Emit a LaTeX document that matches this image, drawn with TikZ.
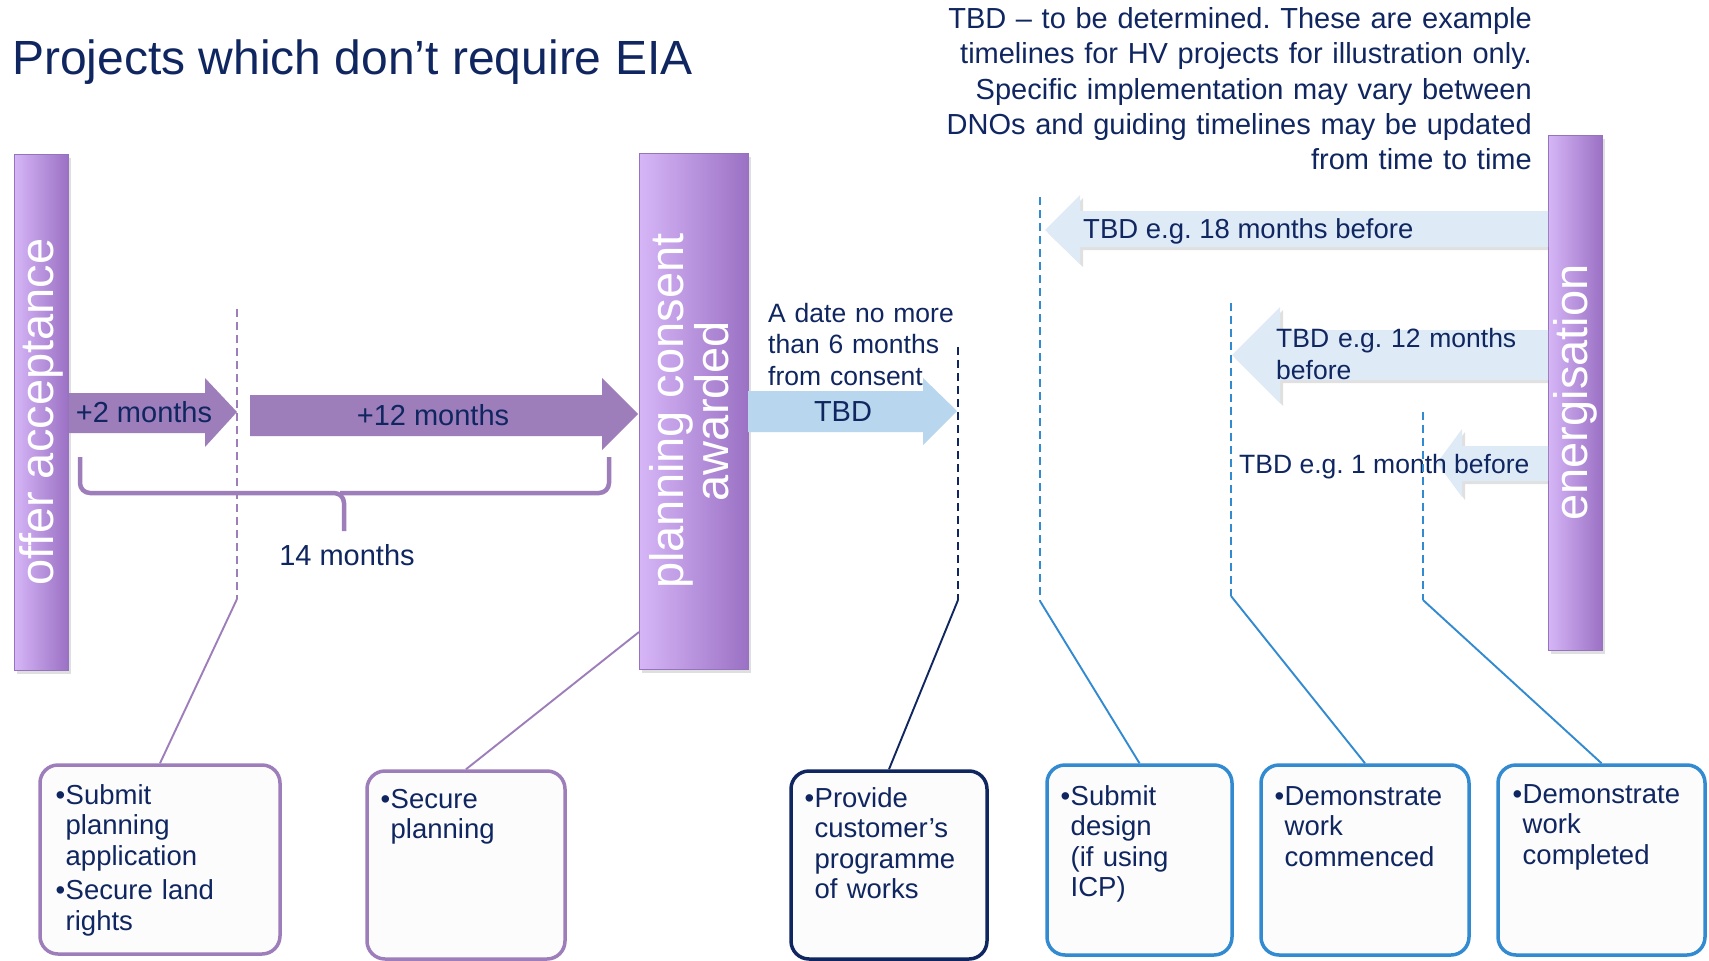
\documentclass[tikz,border=0pt]{standalone}
\usepackage{fontspec}
\setmainfont{Liberation Sans}
\usetikzlibrary{shadows}
\frenchspacing
\definecolor{navy}{RGB}{16,38,96}
\definecolor{purp}{RGB}{157,126,187}
\definecolor{barL}{RGB}{214,182,247}
\definecolor{barD}{RGB}{155,113,196}
\definecolor{barE}{RGB}{150,115,190}
\definecolor{blueM}{RGB}{50,138,208}
\definecolor{tbdB}{RGB}{184,214,237}
\definecolor{paleB}{RGB}{222,235,247}
\definecolor{boxF}{RGB}{252,252,252}
\newcommand{\bu}{\makebox[10pt][l]{•}}
\newcommand{\ii}{\hspace*{10pt}}
\begin{document}
\begin{tikzpicture}[x=1pt,y=-1pt,
  bar/.style={draw=barE, line width=0.8pt, left color=barL, right color=barD, inner sep=0pt,
    drop shadow={shadow xshift=3pt, shadow yshift=-4pt, opacity=0.25}},
  bartext/.style={rotate=90, text=white, font=\fontsize{47}{45}\selectfont, align=center, inner sep=0pt},
  box/.style={rounded corners=18pt, line width=3.5pt, fill=boxF, inner sep=0pt},
  btext/.style={anchor=base west, text=navy, font=\fontsize{27.5}{30.5}\selectfont, align=left, text width=230pt, inner sep=0pt},
  lbl/.style={text=navy, inner sep=0pt},
  shd/.style={fill=black, opacity=0.12},
  dashln/.style={line width=2pt, dash pattern=on 8pt off 5pt},
  conn/.style={line width=1.9pt}
]
\useasboundingbox (0,0) rectangle (1709,961);
\fill[white] (0,0) rectangle (1709,961);

% title
\node[lbl, anchor=base west, font=\fontsize{48}{58}\selectfont] (title) at (12,74) {Projects which don’t require EIA};

% note
\node[lbl, anchor=base east, align=right, text width=660pt, font=\fontsize{29}{35.5}\selectfont] (note) at (1532,28)
 {TBD – to be determined. These are example\\timelines for HV projects for illustration only.\\Specific implementation may vary between\\DNOs and guiding timelines may be updated\\from time to time};

% bars
\node[bar, minimum width=54pt, minimum height=516pt] (offer) at (41,412) {};
\node[bar, minimum width=109pt, minimum height=516pt] (plan) at (693.5,411) {};
\node[bar, minimum width=54pt, minimum height=515pt] (energ) at (1575,392.5) {};
\node[bartext] (offerT) at (offer.center) {offer acceptance};
\node[bartext] (planT) at (689,411) {planning consent\\awarded};
\node[bartext] (energT) at (energ.center) {energisation};

% purple arrows
\fill[purp] (69,393) -- (205,393) -- (205,378) -- (237,412) -- (205,447) -- (205,433) -- (69,433) -- cycle;
\fill[purp] (250,395) -- (602,395) -- (602,378) -- (638,414) -- (602,450) -- (602,436) -- (250,436) -- cycle;
\node[lbl, anchor=base, font=\fontsize{29}{34}\selectfont] (m2) at (144,422) {+2 months};
\node[lbl, anchor=base, font=\fontsize{29}{34}\selectfont] (m12) at (433,425) {+12 months};

% brace
\draw[purp, line width=4.5pt, rounded corners=10pt] (80,457) -- (80,493) -- (344,493) -- (344,531);
\draw[purp, line width=4.5pt, rounded corners=10pt] (340,493) -- (609,493) -- (609,457);
\node[lbl, anchor=base, font=\fontsize{29}{34}\selectfont] (m14) at (347,565) {14 months};

% TBD arrow
\fill[tbdB] (748,391) -- (923,391) -- (923,378) -- (957,411) -- (923,445) -- (923,432) -- (748,432) -- cycle;
\node[lbl, anchor=base, font=\fontsize{29}{34}\selectfont] (tbd) at (843,421) {TBD};
\node[lbl, anchor=base west, align=left, text width=200pt, font=\fontsize{26.5}{31.5}\selectfont] (adate) at (768,322)
 {A date no more\\than 6 months\\from consent};

% pale arrows (with shadows)
\fill[shd] (1548,214) -- (1083,214) -- (1083,198) -- (1048,233) -- (1083,267) -- (1083,250) -- (1548,250) -- cycle;
\fill[paleB] (1548,211) -- (1080,211) -- (1080,195) -- (1045,230) -- (1080,264) -- (1080,247) -- (1548,247) -- cycle;
\fill[shd] (1548,333) -- (1283,333) -- (1283,310) -- (1235,358) -- (1283,406) -- (1283,383) -- (1548,383) -- cycle;
\fill[paleB] (1548,330) -- (1280,330) -- (1280,307) -- (1232,355) -- (1280,403) -- (1280,380) -- (1548,380) -- cycle;
\fill[shd] (1548,449) -- (1465,449) -- (1465,432) -- (1440,466) -- (1465,500) -- (1465,484) -- (1548,484) -- cycle;
\fill[paleB] (1548,446) -- (1462,446) -- (1462,429) -- (1437,463) -- (1462,497) -- (1462,481) -- (1548,481) -- cycle;
\node[lbl, anchor=base west, font=\fontsize{27.5}{32}\selectfont] (t18) at (1083,238) {TBD e.g. 18 months before};
\node[lbl, anchor=base west, align=left, text width=260pt, font=\fontsize{26.5}{32}\selectfont] (t12) at (1276,347) {TBD e.g. 12 months\\before};
\node[lbl, anchor=base west, font=\fontsize{26.5}{32}\selectfont] (t1) at (1239,473) {TBD e.g. 1 month before};

% boxes
\node[box, draw=purp, minimum width=240pt, minimum height=189pt] (b1) at (160,859.5) {};
\node[box, draw=purp, minimum width=198pt, minimum height=188pt] (b2) at (466,865) {};
\node[box, draw=navy, minimum width=196pt, minimum height=188pt] (b3) at (889,865) {};
\node[box, draw=blueM, minimum width=185pt, minimum height=190pt] (b4) at (1139.5,860) {};
\node[box, draw=blueM, minimum width=208pt, minimum height=190pt] (b5) at (1365,860) {};
\node[box, draw=blueM, minimum width=207pt, minimum height=190pt] (b6) at (1601.5,860) {};

\node[btext] (bt1) at (55.5,804) {\bu Submit\\\ii planning\\\ii application\\[4pt]\bu Secure land\\\ii rights};
\node[btext] (bt2) at (380.5,808) {\bu Secure\\\ii planning};
\node[btext] (bt3) at (804.5,807) {\bu Provide\\\ii customer’s\\\ii programme\\\ii of works};
\node[btext] (bt4) at (1060.5,805) {\bu Submit\\\ii design\\\ii (if using\\\ii ICP)};
\node[btext] (bt5) at (1274.5,805) {\bu Demonstrate\\\ii work\\\ii commenced};
\node[btext] (bt6) at (1512.5,803) {\bu Demonstrate\\\ii work\\\ii completed};

% connectors
\coordinate (d1t) at (237,309); \coordinate (d1b) at (237,599);
\coordinate (pc) at (639,632);
\coordinate (d3t) at (958,347); \coordinate (d3b) at (958,600);
\coordinate (d4t) at (1040,197); \coordinate (d4b) at (1040,601);
\coordinate (d5t) at (1231,303); \coordinate (d5b) at (1231,596);
\coordinate (d6t) at (1423,412); \coordinate (d6b) at (1423,600);
\draw[purp, dashln] (d1t) -- (d1b);
\draw[purp, conn] (d1b) -- (b1.north);
\draw[purp, conn] (pc) -- (b2.north);
\draw[navy, dashln] (d3t) -- (d3b);
\draw[navy, conn] (d3b) -- (b3.north);
\draw[blueM, dashln] (d4t) -- (d4b);
\draw[blueM, conn] (d4b) -- (b4.north);
\draw[blueM, dashln] (d5t) -- (d5b);
\draw[blueM, conn] (d5b) -- (b5.north);
\draw[blueM, dashln] (d6t) -- (d6b);
\draw[blueM, conn] (d6b) -- (b6.north);
\end{tikzpicture}
\end{document}
